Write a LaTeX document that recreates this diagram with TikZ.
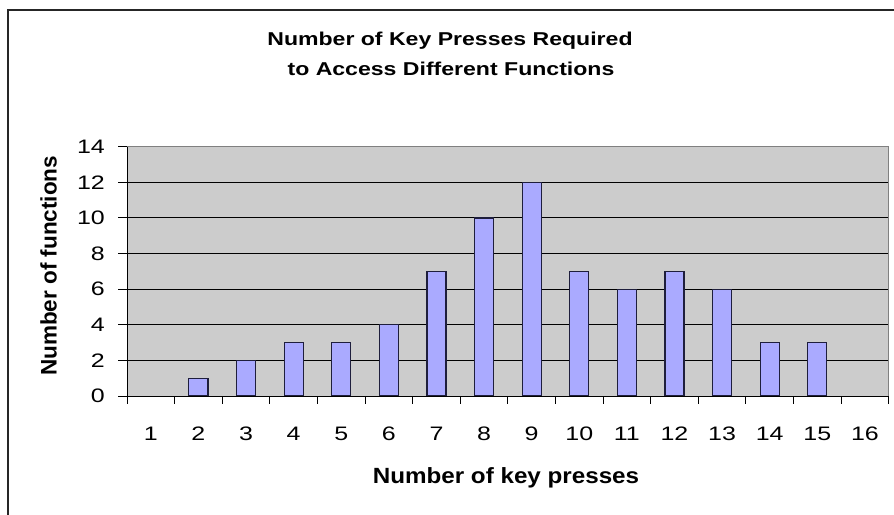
\documentclass[tikz,border=0pt]{standalone}
\usepackage{fontspec}
\setmainfont{Liberation Sans}
\newfontfamily\titlef[FakeStretch=1.24]{Liberation Sans}
\newfontfamily\tickf[FakeStretch=1.28]{Liberation Sans}
\newfontfamily\xlabf[FakeStretch=1.1]{Liberation Sans}
\definecolor{plotbg}{RGB}{204,204,204}
\definecolor{barfill}{RGB}{170,170,255}
\definecolor{barline}{RGB}{30,30,60}
\definecolor{plotborder}{RGB}{128,128,128}
\tikzset{
  gridline/.style={line width=1pt,black},
  barbox/.style={fill=barfill,draw=barline,line width=1.2pt},
  axisline/.style={line width=1pt,black},
  ticklab/.style={inner sep=0pt,font=\tickf\fontsize{19.5}{22}\selectfont},
  titlelab/.style={inner sep=0pt,font=\titlef\bfseries\fontsize{18.6}{22}\selectfont},
}
\begin{document}
\begin{tikzpicture}[x=1pt,y=-1pt]
\useasboundingbox (0,0) rectangle (894,514);
\clip (0,0) rectangle (894,514);
\def\plotL{127}
\def\plotR{888.7}
\def\catW{47.606}
\def\plotB{396}
\def\yU{17.81}
% outer frame
\draw[line width=1.6pt,black!85] (8,10) rectangle (1000,600);
% plot area
\fill[plotbg] (\plotL,{\plotB-14*\yU}) rectangle (\plotR,\plotB);
\foreach \v in {2,4,...,12}
  \draw[gridline] (\plotL,{\plotB-\v*\yU}) -- (\plotR,{\plotB-\v*\yU});
\draw[line width=1pt,plotborder] (\plotL,{\plotB-14*\yU}) -- (\plotR,{\plotB-14*\yU}) -- (\plotR,\plotB);
% bars
\foreach \i/\v in {2/1,3/2,4/3,5/3,6/4,7/7,8/10,9/12,10/7,11/6,12/7,13/6,14/3,15/3}
  \draw[barbox] ({\plotL+(\i-0.7)*\catW},\plotB) rectangle ({\plotL+(\i-0.3)*\catW},{\plotB-\v*\yU});
% axes
\draw[axisline] (\plotL,{\plotB-14*\yU}) -- (\plotL,\plotB) -- (\plotR,\plotB);
\foreach \v in {0,2,...,14}{
  \draw[axisline] (\plotL-9,{\plotB-\v*\yU}) -- (\plotL,{\plotB-\v*\yU});
  \node[ticklab,anchor=east] (yl\v) at (105,{\plotB-\v*\yU}) {\v};
}
\foreach \k in {0,...,16}
  \draw[axisline] ({\plotL+\k*\catW},\plotB) -- ({\plotL+\k*\catW},\plotB+8);
\foreach \i in {1,...,16}
  \node[ticklab,anchor=base] (xl\i) at ({\plotL+(\i-0.5)*\catW},440) {\i};
% titles
\node[titlelab,anchor=base] (title1) at (450,45.7) {Number of Key Presses Required};
\node[titlelab,anchor=base] (title2) at (451,75) {to Access Different Functions};
\node[inner sep=0pt,anchor=base,font=\xlabf\bfseries\fontsize{22}{26}\selectfont] (xtitle) at (506,483.3) {Number of key presses};
\node[inner sep=0pt,anchor=base,rotate=90,font=\bfseries\fontsize{22.5}{26}\selectfont] (ytitle) at (56.7,265.8) {Number of functions};
\end{tikzpicture}
\end{document}
